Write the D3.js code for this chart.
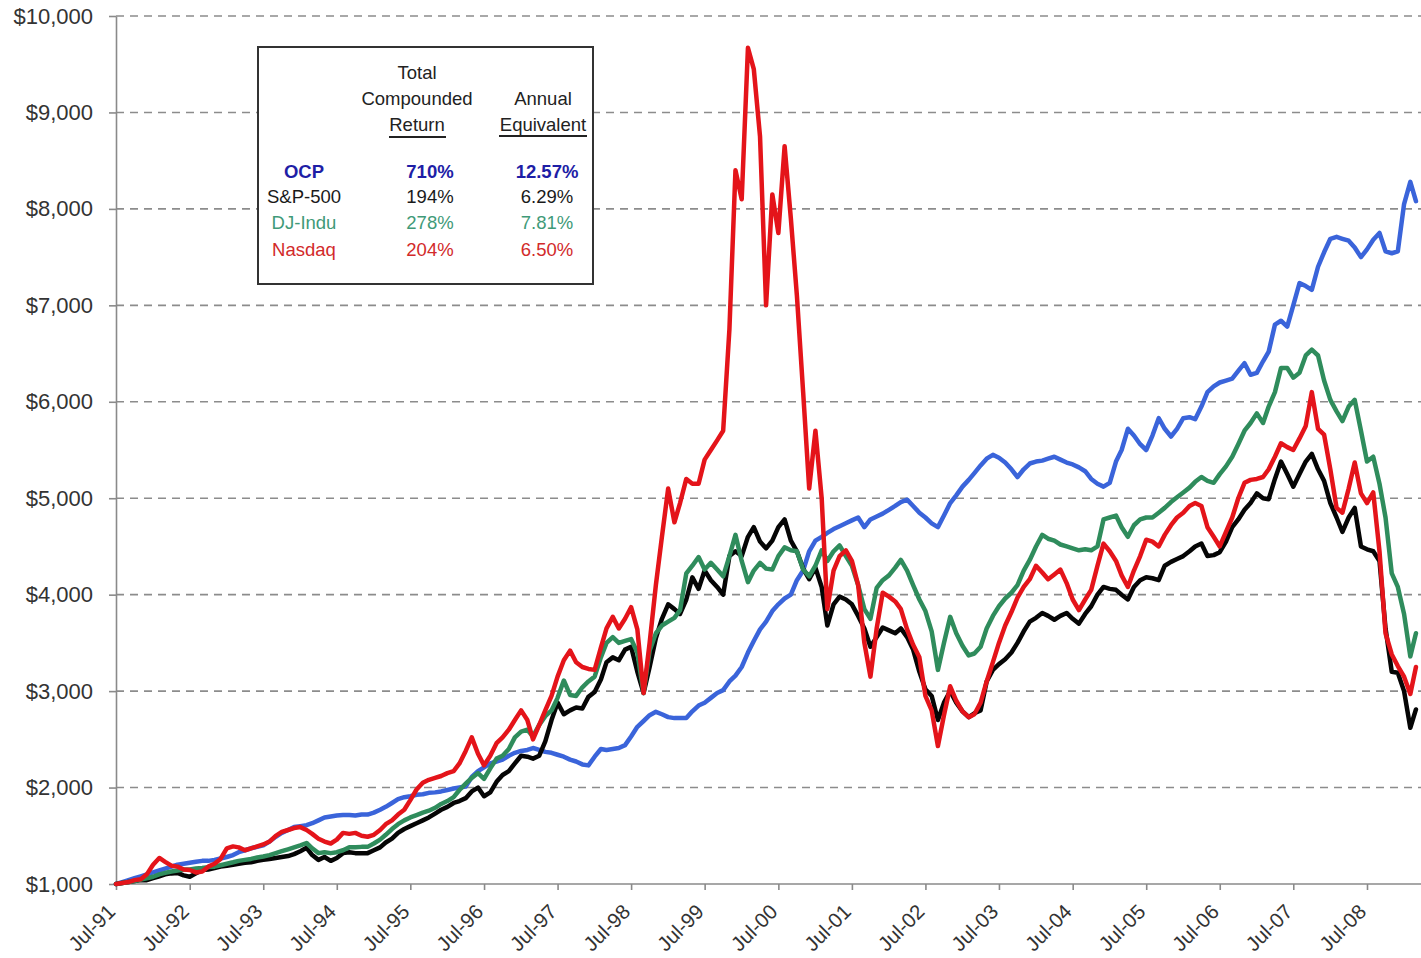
<!DOCTYPE html>
<html>
<head>
<meta charset="utf-8">
<script src="https://cdn.jsdelivr.net/npm/d3@7"></script>
<style>
  body { margin: 0; background: #fff; }
  svg { display: block; font-family: Arial, "Liberation Sans", sans-serif; }
</style>
</head>
<body>
<div id="chart"></div>
<script>
// monthly values, Jul-91 .. Mar-09, growth of $1,000
const startMonth = new Date(1991, 6, 1);
const tickLabels = ["Jul-91","Jul-92","Jul-93","Jul-94","Jul-95","Jul-96","Jul-97","Jul-98","Jul-99",
  "Jul-00","Jul-01","Jul-02","Jul-03","Jul-04","Jul-05","Jul-06","Jul-07","Jul-08"];
const yTicks = [1000, 2000, 3000, 4000, 5000, 6000, 7000, 8000, 9000, 10000];

const ocp = [
  1000,1020,1040,1060,1080,1100,1120,1140,1160,1180,1200,1210,
  1220,1230,1240,1240,1250,1265,1280,1300,1330,1350,1370,1385,
  1400,1440,1490,1530,1560,1590,1600,1610,1630,1660,1690,1700,
  1710,1715,1715,1710,1720,1720,1740,1770,1800,1840,1880,1900,
  1910,1925,1930,1945,1950,1960,1975,1990,2000,2010,2110,2170,
  2210,2250,2270,2290,2330,2360,2380,2390,2410,2390,2370,2360,
  2340,2320,2290,2270,2240,2230,2320,2400,2390,2400,2410,2440,
  2530,2630,2690,2750,2785,2760,2730,2720,2720,2720,2790,2850,
  2880,2930,2980,3010,3100,3160,3250,3400,3520,3640,3720,3830,
  3900,3960,4000,4150,4250,4450,4560,4600,4640,4680,4710,4740,
  4770,4800,4700,4780,4810,4840,4880,4920,4960,4985,4920,4850,
  4800,4740,4700,4820,4950,5030,5120,5190,5260,5340,5410,5450,
  5420,5370,5300,5220,5300,5360,5380,5390,5410,5430,5400,5370,
  5350,5320,5280,5200,5150,5120,5160,5380,5500,5720,5650,5560,
  5500,5650,5830,5720,5640,5720,5830,5840,5820,5950,6100,6160,
  6200,6220,6240,6320,6400,6280,6300,6420,6520,6800,6840,6780,
  7000,7230,7200,7160,7400,7550,7690,7710,7690,7670,7600,7500,
  7580,7680,7750,7560,7540,7560,8050,8280,8080
];

const sp500 = [
  1000,1010,1020,1030,1040,1040,1060,1080,1100,1110,1115,1090,
  1075,1110,1145,1150,1165,1180,1190,1200,1210,1220,1225,1240,
  1250,1260,1270,1280,1290,1310,1340,1375,1300,1250,1280,1240,
  1270,1320,1330,1320,1320,1320,1350,1380,1430,1470,1530,1570,
  1600,1630,1660,1690,1730,1770,1800,1840,1860,1890,1960,2000,
  1910,1950,2060,2130,2170,2250,2330,2320,2300,2330,2480,2700,
  2880,2760,2800,2830,2820,2940,2990,3120,3300,3350,3320,3430,
  3460,3200,2980,3250,3550,3750,3900,3850,3800,3950,4180,4060,
  4250,4150,4080,4000,4400,4450,4400,4600,4700,4550,4480,4560,
  4700,4780,4560,4450,4270,4160,4280,4080,3680,3900,3980,3950,
  3900,3780,3650,3460,3560,3660,3630,3600,3650,3560,3430,3200,
  3020,2950,2700,2880,3000,2880,2790,2730,2770,2800,3100,3220,
  3280,3330,3400,3500,3620,3720,3760,3810,3780,3740,3780,3810,
  3750,3700,3800,3880,4000,4080,4060,4050,4000,3950,4080,4150,
  4180,4170,4150,4300,4340,4370,4400,4450,4500,4530,4400,4410,
  4440,4550,4700,4780,4880,4950,5050,5000,4990,5200,5380,5250,
  5120,5250,5380,5460,5300,5180,4950,4800,4650,4800,4900,4500,
  4470,4450,4350,3650,3200,3190,3000,2620,2810
];

const djIndu = [
  1000,1010,1020,1030,1045,1060,1075,1100,1115,1130,1140,1150,
  1150,1160,1165,1175,1180,1195,1210,1225,1240,1250,1260,1275,
  1285,1300,1320,1340,1360,1380,1400,1425,1370,1320,1330,1320,
  1330,1350,1380,1380,1385,1385,1420,1460,1510,1570,1620,1660,
  1690,1715,1740,1760,1790,1830,1860,1900,1975,2040,2100,2150,
  2090,2200,2300,2330,2400,2520,2580,2600,2530,2650,2740,2800,
  2930,3110,2960,2950,3040,3100,3150,3350,3500,3560,3500,3520,
  3540,3400,2980,3420,3600,3680,3720,3760,3840,4220,4300,4390,
  4260,4330,4260,4190,4400,4620,4350,4130,4250,4330,4270,4260,
  4400,4490,4460,4450,4260,4190,4300,4460,4350,4450,4510,4400,
  4300,4100,3850,3750,4070,4150,4200,4280,4360,4250,4100,3950,
  3830,3620,3220,3500,3770,3600,3470,3370,3390,3460,3650,3780,
  3880,3960,4020,4100,4250,4360,4500,4620,4580,4560,4520,4500,
  4480,4460,4470,4460,4500,4780,4800,4820,4700,4600,4720,4780,
  4800,4800,4850,4900,4960,5010,5060,5110,5170,5220,5180,5160,
  5250,5330,5430,5560,5700,5780,5880,5780,5950,6100,6350,6350,
  6250,6300,6480,6540,6480,6220,6020,5900,5800,5950,6020,5700,
  5380,5430,5150,4800,4220,4080,3800,3360,3600
];

const nasdaq = [
  1000,1010,1020,1040,1050,1100,1200,1270,1230,1190,1180,1150,
  1145,1120,1130,1180,1210,1260,1370,1390,1380,1350,1370,1390,
  1410,1440,1500,1540,1560,1580,1590,1560,1520,1470,1440,1420,
  1460,1530,1520,1530,1500,1490,1510,1560,1620,1660,1720,1770,
  1870,1980,2050,2080,2100,2120,2150,2170,2250,2380,2520,2350,
  2230,2330,2460,2520,2600,2700,2800,2700,2500,2650,2800,2950,
  3150,3320,3420,3300,3250,3230,3220,3450,3650,3770,3650,3750,
  3870,3640,2980,3500,4100,4600,5100,4750,4950,5200,5150,5150,
  5400,5500,5600,5700,6750,8400,8100,9670,9450,8750,7000,8150,
  7750,8650,7900,7100,6100,5100,5700,5000,3850,4250,4400,4460,
  4350,4100,3500,3150,3650,4020,3980,3930,3850,3640,3480,3350,
  2950,2800,2430,2750,3050,2900,2790,2730,2760,2880,3100,3300,
  3500,3680,3820,3970,4080,4160,4300,4230,4160,4210,4260,4120,
  3950,3840,3950,4050,4300,4530,4450,4350,4200,4080,4250,4400,
  4570,4550,4500,4620,4720,4800,4850,4920,4950,4920,4700,4600,
  4500,4650,4800,5000,5160,5190,5200,5220,5300,5430,5570,5530,
  5500,5620,5750,6100,5720,5660,5300,4900,4850,5100,5370,5050,
  4950,5060,4450,3600,3380,3260,3150,2970,3250
];

// legend table
const legendNames = ["OCP", "S&P-500", "DJ-Indu", "Nasdaq"];
const legendTotal = ["710%", "194%", "278%", "204%"];
const legendAnnual = ["12.57%", "6.29%", "7.81%", "6.50%"];
const legendColors = ["#1e1ea6", "#1a1a1a", "#3f9a78", "#d22a2a"];

const svg = d3.select("#chart").append("svg")
    .attr("width", 1421)
    .attr("height", 958);

const months = d3.timeMonth.range(startMonth, d3.timeMonth.offset(startMonth, ocp.length));
const parseTick = d3.timeParse("%b-%y");
const tickDates = tickLabels.map(parseTick);

const x = d3.scaleTime()
    .domain([tickDates[0], tickDates[tickDates.length - 1]])
    .range([116, 1367]);

const y = d3.scaleLinear()
    .domain([1000, 10000])
    .range([884, 16]);

// dashed grid
svg.append("g")
    .selectAll("line")
    .data(yTicks.filter(d => d > 1000))
    .enter().append("line")
    .attr("x1", 116)
    .attr("x2", 1421)
    .attr("y1", d => y(d))
    .attr("y2", d => y(d))
    .attr("stroke", "#8c8c8c")
    .attr("stroke-width", 1.6)
    .attr("stroke-dasharray", "8,6");

// y axis
const yAxis = d3.axisLeft(y)
    .tickValues(yTicks)
    .tickFormat(d => "$" + d3.format(",")(d))
    .tickSize(7)
    .tickSizeOuter(0)
    .tickPadding(16);

const gy = svg.append("g")
    .attr("transform", "translate(116,0)")
    .call(yAxis);
gy.select(".domain").attr("stroke", "#8a8a8a").attr("stroke-width", 1.6);
gy.selectAll(".tick line").attr("stroke", "#8a8a8a").attr("stroke-width", 1.6);
gy.selectAll(".tick text")
    .attr("font-size", 22)
    .attr("fill", "#333");

// x axis
const xAxis = d3.axisBottom(x)
    .tickValues(tickDates)
    .tickFormat((d, i) => tickLabels[i])
    .tickSize(6)
    .tickSizeOuter(0);

const gx = svg.append("g")
    .attr("transform", "translate(0,884)")
    .call(xAxis);
gx.select(".domain").remove();
gx.append("line")
    .attr("x1", 116).attr("x2", 1421)
    .attr("y1", 0).attr("y2", 0)
    .attr("stroke", "#8a8a8a")
    .attr("stroke-width", 1.6);
gx.selectAll(".tick line").attr("stroke", "#8a8a8a").attr("stroke-width", 1.6);
gx.selectAll(".tick text")
    .attr("font-size", 20.5)
    .attr("fill", "#333")
    .attr("text-anchor", "end")
    .attr("x", 0)
    .attr("y", 0)
    .attr("dy", 0)
    .attr("transform", "translate(0,29) rotate(-45)");

// lines
const line = d3.line()
    .x((d, i) => x(months[i]))
    .y(d => y(d));

const series = [
    { values: ocp, color: "#3a64da" },
    { values: sp500, color: "#050505" },
    { values: djIndu, color: "#2f8c5c" },
    { values: nasdaq, color: "#e4141a" }
];

svg.append("g")
    .selectAll("path")
    .data(series)
    .enter().append("path")
    .attr("fill", "none")
    .attr("stroke", d => d.color)
    .attr("stroke-width", 4.5)
    .attr("stroke-linejoin", "round")
    .attr("stroke-linecap", "round")
    .attr("d", d => line(d.values));

// legend box
const lg = svg.append("g");
lg.append("rect")
    .attr("x", 258).attr("y", 47)
    .attr("width", 335).attr("height", 237)
    .attr("fill", "#fff")
    .attr("stroke", "#333")
    .attr("stroke-width", 2);

const head = [
    { t: "Total", x: 417, y: 79 },
    { t: "Compounded", x: 417, y: 105 },
    { t: "Return", x: 417, y: 131 },
    { t: "Annual", x: 543, y: 105 },
    { t: "Equivalent", x: 543, y: 131 }
];
lg.selectAll("text.head")
    .data(head)
    .enter().append("text")
    .attr("class", "head")
    .attr("x", d => d.x)
    .attr("y", d => d.y)
    .attr("text-anchor", "middle")
    .attr("font-size", 18.5)
    .attr("fill", "#222")
    .text(d => d.t);

lg.append("line").attr("x1", 389).attr("x2", 446).attr("y1", 137).attr("y2", 137)
    .attr("stroke", "#222").attr("stroke-width", 2);
lg.append("line").attr("x1", 499).attr("x2", 587).attr("y1", 136).attr("y2", 136)
    .attr("stroke", "#222").attr("stroke-width", 2);

const rowY = [178, 203, 229, 256];
legendNames.forEach((name, i) => {
    const cols = [[name, 304], [legendTotal[i], 430], [legendAnnual[i], 547]];
    cols.forEach(c => {
        lg.append("text")
            .attr("x", c[1])
            .attr("y", rowY[i])
            .attr("text-anchor", "middle")
            .attr("font-size", 18.5)
            .attr("font-weight", i === 0 ? "bold" : "normal")
            .attr("fill", legendColors[i])
            .text(c[0]);
    });
});
</script>
</body>
</html>
